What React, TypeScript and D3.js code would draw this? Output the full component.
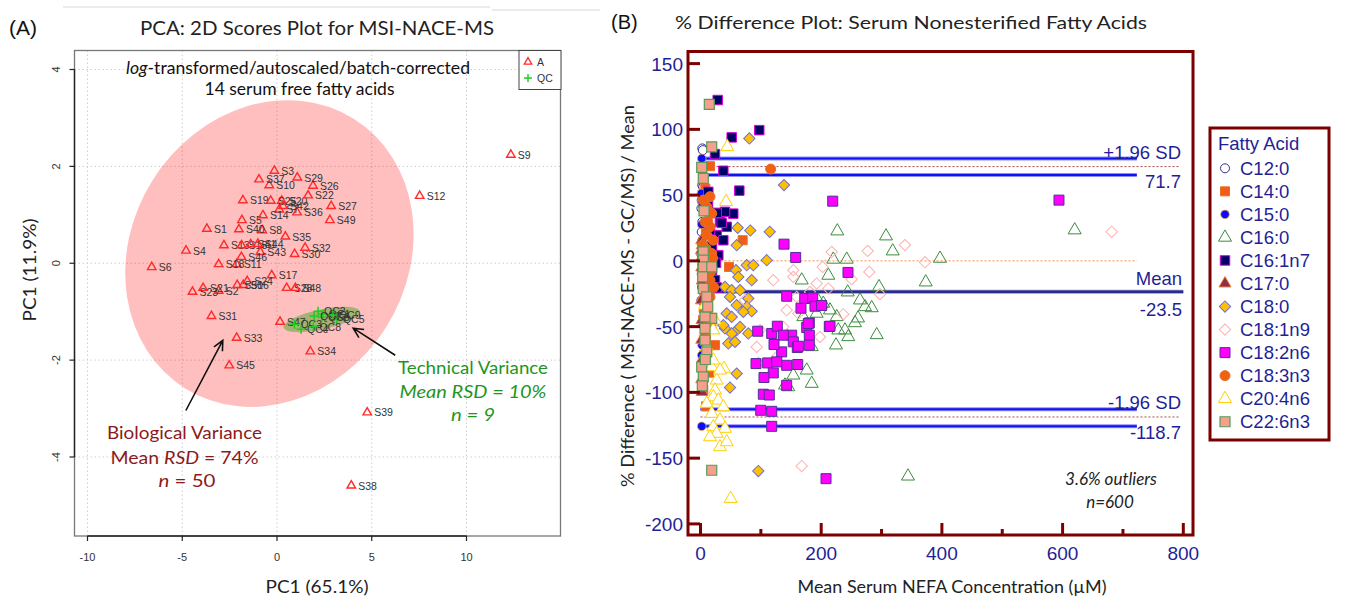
import React from 'react';
import * as d3 from 'd3';

// ---------------- Panel A data (PCA scores) ----------------
const sampleNames = ['S1','S2','S3','S4','S5','S6','S7','S8','S9','S10','S11','S12','S13','S14','S15','S16','S17','S18','S19','S20','S21','S22','S23','S24','S25','S26','S27','S28','S29','S30','S31','S32','S33','S34','S35','S36','S37','S38','S39','S40','S41','S42','S43','S44','S45','S46','S47','S48','S49','S50'];
const samplePC1 = [-3.70,-3.08,-0.14,-4.80,-1.85,-6.61,0.12,-0.78,12.34,-0.41,-2.13,7.53,-2.80,-0.74,-1.87,-1.78,-0.28,-3.08,-1.80,0.25,-3.90,1.64,-4.46,-1.57,-0.33,1.90,2.86,0.51,1.07,0.93,-3.46,1.48,-2.13,1.76,0.44,1.06,-0.95,3.92,4.76,-2.01,-1.39,0.32,-0.88,-1.01,-2.52,-1.88,0.16,0.97,2.79,-2.10];
const samplePC2 = [0.71,-0.57,1.91,0.26,0.89,-0.08,1.11,0.68,2.24,1.61,-0.02,1.39,0.37,0.99,0.37,-0.45,-0.25,-0.02,1.30,1.29,-0.51,1.40,-0.59,-0.37,1.29,1.60,1.18,-0.51,1.77,0.19,-1.09,0.32,-1.54,-1.82,0.55,1.05,1.73,-4.59,-3.08,0.70,0.39,1.18,0.23,0.40,-2.11,0.13,-1.21,-0.51,0.89,-0.45];
const qcNames = ['QC1','QC2','QC3','QC4','QC5','QC6','QC7','QC8','QC9'];
const qcPC1 = [2.42,2.17,0.92,1.27,3.16,2.37,1.96,1.92,2.95];
const qcPC2 = [-1.05,-0.99,-1.26,-1.36,-1.16,-1.11,-1.09,-1.31,-1.07];
const xTicksA = [-10,-5,0,5,10];
const yTicksA = [-4,-2,0,2,4];
const bioEllipseCenter = [-0.40, 0.20];
const qcEllipseCenter = [2.36, -1.16];

// ---------------- Panel B data (% difference) ----------------
const fattyAcids = ['C12:0','C14:0','C15:0','C16:0','C16:1n7','C17:0','C18:0','C18:1n9','C18:2n6','C18:3n3','C20:4n6','C22:6n3'];
const c12_0 = [[3,85.5],[4,84.2],[5,64.4],[3,57.6],[4.5,56.3],[2,46.2],[1.5,40.0],[3,29.7],[2,22.0],[2.5,12.0],[1.5,5.0],[3,-3.0],[2,-10.0],[2.5,-20.0],[1.5,-30.0]];
const c14_0 = [[15.7,72.0],[69.9,15.7],[47.2,-4.6],[24.0,-64.1],[4.6,-97.8],[5.8,38.6],[9.1,23.4],[2.5,8.1],[10.8,-10.9],[5.8,-22.3],[12.4,-33.7],[4.1,-45.1],[9.1,-56.5],[5.8,-71.7],[9.1,-110.6],[14,-85],[18,-50],[20,-20],[8,55]];
const c15_0 = [[2.0,77.9],[2.0,-125.8],[1.5,51.3],[1.8,44.9],[2.0,27.7],[2.5,15.7],[2.0,0.5],[2.5,-14.7],[1.5,-29.9],[2.0,-46.6],[2.5,-64.1],[2.0,-71.7],[2.5,-83.2],[3.0,42.0]];
const c16_0 = [[226.7,22.6],[307.4,18.8],[318.5,7.4],[396.9,1.8],[373.2,-16.2],[620.0,23.4],[220.0,1.1],[242.3,1.1],[211.8,-11.1],[167.7,-14.7],[243.9,-23.8],[295.8,-19.8],[272.6,-35.0],[283.7,-35.8],[256.0,-47.2],[225.7,-42.6],[228.3,-52.7],[244.9,-57.8],[224.5,-64.1],[184.3,-65.4],[292.0,-56.3],[176.0,-83.2],[184.3,-93.3],[145.5,-95.9],[153.8,-87.0],[203.5,-32.4],[192.5,-40.0],[170.3,-42.6],[214.6,-37.5],[140.0,-94.6],[343.8,-163.8],[194.7,-29.9],[261.0,-43.6],[239.4,-52.7],[264.3,-29.9]];
const c16_1n7 = [[28.5,122.3],[97.4,99.4],[51.7,93.9],[24.0,81.2],[37.8,68.5],[64.3,53.4],[12.9,52.5],[54.3,35.9],[40.6,37.3],[32.3,29.7],[43.4,25.9],[26.8,19.6],[37.8,15.7],[26.8,36.5],[35.1,28.9],[29.5,4.3],[25.7,-1.5],[24.0,-14.7],[26.8,-20.2],[19.1,11.2],[15.7,23.4],[12.4,42.4],[19.1,-7.1]];
const c17_0 = [[2,15.7],[3,11.9],[1.5,8],[2.5,3],[2,-5],[3,-15],[1.5,-30],[2.5,-45],[2,-60],[3,-75],[2,-90],[2.5,-99.7]];
const c18_0 = [[80.9,93.1],[138.4,57.6],[61.6,25.1],[82.5,23.1],[114.7,22.1],[60.0,11.9],[76.6,-3.3],[87.5,-3.3],[109.7,0.5],[58.8,-7.1],[62.6,-12.2],[84.8,-14.7],[40.6,-19.8],[51.7,-22.3],[65.5,-22.3],[48.9,-27.4],[79.2,-28.6],[76.6,-35.0],[60.0,-33.7],[84.8,-38.3],[43.4,-40.0],[51.7,-42.6],[70.9,-38.8],[40.6,-51.4],[60.0,-52.7],[51.7,-55.2],[37.8,-48.9],[65.5,-50.2],[79.2,-55.2],[46.1,-62.8],[57.2,-61.6],[60.0,-85.7],[48.9,-96.3],[95.8,-159.8]];
const c18_1n9 = [[277.0,7.6],[217.4,6.8],[202.5,-4.6],[153.8,-12.2],[279.7,-8.4],[250.5,-13.9],[297.4,-25.3],[192.5,-17.2],[211.8,-21.0],[181.4,-23.6],[159.4,-27.4],[142.8,-37.5],[162.1,-40.0],[236.6,-40.6],[198.0,-57.8],[176.0,-47.6],[137.2,-50.2],[681.4,22.1],[167.7,-156.0],[95.8,-77.6],[126.3,-73.0],[93.1,-65.4],[153.8,-7.1],[120.6,-14.7],[372.0,-1.0],[338.8,12.0],[98.6,-52.7],[73.7,-29.9]];
const c18_2n6 = [[219.1,45.4],[594.0,46.2],[138.4,12.7],[157.7,2.6],[244.4,-8.8],[142.8,-26.9],[172.7,-28.6],[185.9,-28.2],[166.5,-36.0],[189.7,-34.5],[200.8,-33.9],[180.3,-47.2],[176.0,-50.7],[213.4,-49.9],[180.3,-56.5],[151.1,-56.5],[153.8,-61.6],[160.4,-65.9],[134.5,-69.2],[142.8,-79.4],[161.1,-78.8],[142.8,-94.6],[94.8,-53.5],[118.0,-55.2],[127.3,-49.7],[137.2,-56.5],[162.1,-64.9],[121.8,-63.6],[92.0,-78.1],[111.3,-77.6],[126.3,-76.8],[120.6,-85.2],[105.2,-88.7],[104.1,-101.4],[114.0,-102.0],[99.8,-113.6],[118.0,-114.4],[118.0,-125.8],[180.3,-64.1],[178.6,-47.6],[214.6,-49.7],[208.0,-165.6]];
const c18_3n3 = [[116.3,69.8],[15.7,48.8],[4.6,46.2],[10.3,41.1],[18.6,36.1],[7.5,29.7],[15.7,25.9],[10.3,19.6],[21.2,15.7],[9.1,9.4],[18.6,5.6],[12.9,-0.8],[4.6,-7.1],[15.7,-14.7],[10.3,-21.0],[15.7,-27.4],[7.5,-33.7],[12.4,-41.3],[6,-38],[14,-47],[8,-52],[3,12],[20,2],[17,-8],[22,-20],[12,30]];
const c20_4n6 = [[44.4,86.7],[42.3,44.9],[7.5,-33.7],[10.3,-41.3],[21.2,-52.7],[24.0,-45.1],[18.6,-80.7],[21.2,-75.6],[38.9,-81.9],[26.8,-90.8],[24.0,-98.4],[21.2,-103.5],[29.5,-106.0],[10.3,-108.5],[37.8,-111.1],[18.6,-116.1],[32.3,-121.2],[21.2,-126.3],[40.6,-127.5],[26.8,-131.3],[15.7,-133.9],[32.3,-141.5],[43.4,-137.7],[50.0,-180.8],[10.3,-65.4],[32.3,-83.2]];
const c22_6n3 = [[14.6,119.0],[18.6,86.7],[2.0,71.1],[4.6,62.7],[5.8,38.0],[18.6,-159.2],[4.6,6.8],[4.6,0.5],[4.6,-4.6],[18.6,-4.6],[3.6,-12.2],[4.6,-21.0],[10.3,-27.4],[18.6,-43.8],[7.5,-42.6],[7.5,-51.4],[7.5,-60.3],[10.3,-69.2],[2.0,-80.7],[4.6,-88.3],[12,-35],[3,-95],[8,-75]];
const xTicksB = [0,200,400,600,800];
const xMinorB = [100,300,500,700];
const yTicksB = [-200,-150,-100,-50,0,50,100,150];
const meanDiff = -23.5;
const upperLoA = 71.7;
const lowerLoA = -118.7;
const upperCI = [65.2, 77.9];
const lowerCI = [-125.8, -112.8];

const seriesData = [c12_0, c14_0, c15_0, c16_0, c16_1n7, c17_0, c18_0, c18_1n9, c18_2n6, c18_3n3, c20_4n6, c22_6n3];
const seriesStyle = [
  { shape: 'circle', s: 4.5, fill: '#ffffff', stroke: '#30309a', sw: 1 },
  { shape: 'square', s: 9, fill: '#f25c14', stroke: '#e8702a', sw: 1 },
  { shape: 'circle', s: 4.3, fill: '#0a0aff', stroke: '#f0b040', sw: 0.8 },
  { shape: 'triangle', s: 13, fill: 'none', stroke: '#3c8c3c', sw: 1 },
  { shape: 'square', s: 9.5, fill: '#000066', stroke: '#dd00dd', sw: 1 },
  { shape: 'triangle', s: 12, fill: '#8b2f4f', stroke: '#f07a30', sw: 1 },
  { shape: 'diamond', s: 8, fill: '#ffc000', stroke: '#7070d8', sw: 1 },
  { shape: 'diamond', s: 8, fill: 'none', stroke: '#ffb0b0', sw: 1 },
  { shape: 'square', s: 10, fill: '#ff00ff', stroke: '#50309a', sw: 1 },
  { shape: 'circle', s: 5, fill: '#f26010', stroke: '#e07030', sw: 1 },
  { shape: 'triangle', s: 13, fill: '#ffffff', stroke: '#ffd000', sw: 1 },
  { shape: 'square', s: 10, fill: '#f4a08c', stroke: '#5a9a5a', sw: 1.2 },
];

const CG = "Lato, 'Open Sans', sans-serif";
const AR = "'Liberation Sans', Arial, sans-serif";
const NAVY = '#1f1f96';
const DRED = '#7b0000';

function markerPath(shape: string, s: number): string {
  const sym = d3.symbol();
  if (shape === 'circle') return sym.type(d3.symbolCircle).size(Math.PI * s * s)() as string;
  if (shape === 'triangle') return sym.type(d3.symbolTriangle).size((Math.sqrt(3) / 4) * s * s)() as string;
  return sym.type(d3.symbolSquare).size(s * s)() as string;
}

function Marker({ x, y, st }: any) {
  const rot = st.shape === 'diamond' ? ' rotate(45)' : '';
  return (
    <path d={markerPath(st.shape, st.s)} transform={`translate(${x},${y})${rot}`}
      fill={st.fill} stroke={st.stroke} strokeWidth={st.sw} />
  );
}

function Arrow({ x1, y1, x2, y2 }: any) {
  const a = Math.atan2(y2 - y1, x2 - x1);
  const L = 11;
  const h1 = [x2 - L * Math.cos(a - 0.45), y2 - L * Math.sin(a - 0.45)];
  const h2 = [x2 - L * Math.cos(a + 0.45), y2 - L * Math.sin(a + 0.45)];
  return (
    <path d={`M${x1},${y1}L${x2},${y2}M${h1[0]},${h1[1]}L${x2},${y2}L${h2[0]},${h2[1]}`}
      stroke="#111" strokeWidth={1.6} fill="none" />
  );
}

export default function App() {
  // Panel A scales
  const xA = d3.scaleLinear().domain([-10, 10]).range([87.5, 466.5]);
  const yA = d3.scaleLinear().domain([-4, 4]).range([457, 69.5]);
  const fA = { l: 74.5, r: 560.5, t: 50.5, b: 536 };

  // Panel B scales
  const xB = d3.scaleLinear().domain([0, 800]).range([700.5, 1183.3]);
  const yB = d3.scaleLinear().domain([-200, 150]).range([523.9, 63.6]);
  const fB = { l: 688, r: 1193, t: 51.5, b: 535 };

  const triA = markerPath('triangle', 8.5);

  return (
    <svg width={1355} height={602} style={{ position: 'absolute', left: 0, top: 0, background: '#fff' }}>
      {/* faint panel borders */}
      <line x1={63} y1={7} x2={490} y2={7} stroke="#d8d8d8" strokeWidth={1} />
      <line x1={492} y1={10} x2={600} y2={10} stroke="#d8d8d8" strokeWidth={1} />

      {/* ================= PANEL A ================= */}
      <text x={9} y={35} fontFamily={AR} fontSize={21} fill="#111">(A)</text>
      <text x={317} y={35} textAnchor="middle" fontFamily={CG} fontSize={20} fill="#222"
        textLength={354} lengthAdjust="spacingAndGlyphs">PCA: 2D Scores Plot for MSI-NACE-MS</text>

      {/* grid */}
      {xTicksA.map((t) => (
        <line key={'gx' + t} x1={xA(t)} x2={xA(t)} y1={fA.t} y2={fA.b} stroke="#cfcfcf" strokeDasharray="1.5,2.5" />
      ))}
      {yTicksA.map((t) => (
        <line key={'gy' + t} x1={fA.l} x2={fA.r} y1={yA(t)} y2={yA(t)} stroke="#cfcfcf" strokeDasharray="1.5,2.5" />
      ))}

      {/* biological ellipse */}
      <ellipse cx={0} cy={0} rx={138} ry={159} fill="#ff0000" fillOpacity={0.25}
        transform={`translate(${xA(bioEllipseCenter[0])},${yA(bioEllipseCenter[1])}) rotate(32)`} />
      {/* QC ellipse */}
      <ellipse cx={0} cy={0} rx={39} ry={10} fill="rgb(90,170,50)" fillOpacity={0.55}
        transform={`translate(${xA(qcEllipseCenter[0])},${yA(qcEllipseCenter[1])}) rotate(-12)`} />

      {/* samples */}
      {sampleNames.map((n, i) => (
        <g key={n}>
          <path d={triA} transform={`translate(${xA(samplePC1[i])},${yA(samplePC2[i])})`} fill="none" stroke="#ff2a2a" strokeWidth={1.4} />
          <text x={xA(samplePC1[i]) + 7} y={yA(samplePC2[i]) + 4} fontFamily={AR} fontSize={10.5} fill="#333">{n}</text>
        </g>
      ))}
      {qcNames.map((n, i) => {
        const cx = xA(qcPC1[i]);
        const cy = yA(qcPC2[i]);
        return (
          <g key={n}>
            <path d={`M${cx - 4.5},${cy}H${cx + 4.5}M${cx},${cy - 4.5}V${cy + 4.5}`} stroke="#1fcc1f" strokeWidth={1.5} />
            <text x={cx + 6} y={cy + 4} fontFamily={AR} fontSize={10.5} fill="#333">{n}</text>
          </g>
        );
      })}

      {/* frame and axes */}
      <rect x={fA.l} y={fA.t} width={fA.r - fA.l} height={fA.b - fA.t} fill="none" stroke="#777" strokeWidth={1.3} />
      <line x1={xA(-10)} x2={xA(10)} y1={fA.b} y2={fA.b} stroke="#222" strokeWidth={1.4} />
      {xTicksA.map((t) => (
        <g key={'xa' + t}>
          <line x1={xA(t)} x2={xA(t)} y1={fA.b} y2={fA.b + 5} stroke="#222" strokeWidth={1.2} />
          <text x={xA(t)} y={fA.b + 25} textAnchor="middle" fontFamily={AR} fontSize={11} fill="#333">{t}</text>
        </g>
      ))}
      <line x1={fA.l} x2={fA.l} y1={yA(-4)} y2={yA(4)} stroke="#222" strokeWidth={1.4} />
      {yTicksA.map((t) => (
        <g key={'ya' + t}>
          <line x1={fA.l - 5} x2={fA.l} y1={yA(t)} y2={yA(t)} stroke="#222" strokeWidth={1.2} />
          <text transform={`translate(${fA.l - 15},${yA(t)}) rotate(-90)`} textAnchor="middle" fontFamily={AR} fontSize={11} fill="#333">{t}</text>
        </g>
      ))}

      {/* legend A */}
      <rect x={519} y={fA.t} width={42} height={39} fill="#fff" stroke="#444" strokeWidth={1} />
      <path d={markerPath('triangle', 7.5)} transform="translate(528,62)" fill="none" stroke="#ff2a2a" strokeWidth={1.3} />
      <text x={537} y={66} fontFamily={AR} fontSize={10.5} fill="#333">A</text>
      <path d="M524,78H532M528,74V82" stroke="#1fcc1f" strokeWidth={1.4} />
      <text x={537} y={82} fontFamily={AR} fontSize={10.5} fill="#333">QC</text>

      {/* annotations A */}
      <text x={298} y={74} textAnchor="middle" fontFamily={CG} fontSize={17} fill="#111" textLength={344} lengthAdjust="spacingAndGlyphs">
        <tspan fontStyle="italic">log</tspan>-transformed/autoscaled/batch-corrected
      </text>
      <text x={299.5} y={95} textAnchor="middle" fontFamily={CG} fontSize={17} fill="#111" textLength={190} lengthAdjust="spacingAndGlyphs">14 serum free fatty acids</text>

      <text x={473} y={374} textAnchor="middle" fontFamily={CG} fontSize={17} fill="#1e961e" textLength={150} lengthAdjust="spacingAndGlyphs">Technical Variance</text>
      <text x={473} y={398} textAnchor="middle" fontFamily={CG} fontSize={17} fill="#1e961e" fontStyle="italic" textLength={147} lengthAdjust="spacingAndGlyphs">Mean RSD = 10%</text>
      <text x={473} y={421} textAnchor="middle" fontFamily={CG} fontSize={17} fill="#1e961e" fontStyle="italic" textLength={44} lengthAdjust="spacingAndGlyphs">n = 9</text>

      <text x={184.5} y={439} textAnchor="middle" fontFamily={CG} fontSize={17} fill="#8b1a1a" textLength={155} lengthAdjust="spacingAndGlyphs">Biological Variance</text>
      <text x={184.5} y={464} textAnchor="middle" fontFamily={CG} fontSize={17} fill="#8b1a1a" textLength={148} lengthAdjust="spacingAndGlyphs">
        Mean <tspan fontStyle="italic">RSD</tspan> = 74%
      </text>
      <text x={187} y={487} textAnchor="middle" fontFamily={CG} fontSize={17} fill="#8b1a1a" textLength={57} lengthAdjust="spacingAndGlyphs">
        <tspan fontStyle="italic">n</tspan> = 50
      </text>

      <Arrow x1={xA(-4.81)} y1={yA(-3.04)} x2={xA(-2.86)} y2={yA(-1.59)} />
      <Arrow x1={xA(6.24)} y1={yA(-1.90)} x2={xA(4.02)} y2={yA(-1.34)} />

      <text x={317} y={593} textAnchor="middle" fontFamily={CG} fontSize={18} fill="#222" textLength={103} lengthAdjust="spacingAndGlyphs">PC1 (65.1%)</text>
      <text transform="translate(36,270) rotate(-90)" textAnchor="middle" fontFamily={CG} fontSize={18} fill="#222" textLength={103} lengthAdjust="spacingAndGlyphs">PC1 (11.9%)</text>

      {/* ================= PANEL B ================= */}
      <text x={611} y={29} fontFamily={AR} fontSize={20} fill="#111">(B)</text>
      <text x={911} y={29} textAnchor="middle" fontFamily={CG} fontSize={18} fill="#222" textLength={472} lengthAdjust="spacingAndGlyphs">% Difference Plot: Serum Nonesterified Fatty Acids</text>

      {/* reference lines */}
      <line x1={xB(0)} x2={xB(723)} y1={yB(0)} y2={yB(0)} stroke="#ff8c40" strokeWidth={1} strokeDasharray="2,2" />
      <line x1={xB(0)} x2={xB(795)} y1={yB(upperLoA)} y2={yB(upperLoA)} stroke="#b04848" strokeWidth={1} strokeDasharray="2,2" />
      <line x1={xB(0)} x2={xB(795)} y1={yB(lowerLoA)} y2={yB(lowerLoA)} stroke="#b04848" strokeWidth={1} strokeDasharray="2,2" />
      {[...upperCI, ...lowerCI].map((v, i) => (
        <g key={'ci' + i}>
          <line x1={xB(0)} x2={xB(723)} y1={yB(v)} y2={yB(v)} stroke="#8c8cff" strokeWidth={4} />
          <line x1={xB(0)} x2={xB(723)} y1={yB(v)} y2={yB(v)} stroke="#1212f0" strokeWidth={2} />
        </g>
      ))}
      <line x1={xB(0)} x2={xB(800)} y1={yB(meanDiff)} y2={yB(meanDiff)} stroke="#9090c8" strokeWidth={4} />
      <line x1={xB(0)} x2={xB(800)} y1={yB(meanDiff)} y2={yB(meanDiff)} stroke="#2c2c8c" strokeWidth={2.5} />

      {/* points */}
      {seriesData.map((ser, si) => (
        <g key={'s' + si}>
          {ser.map((p, pi) => (
            <Marker key={pi} x={xB(p[0])} y={yB(p[1])} st={seriesStyle[si]} />
          ))}
        </g>
      ))}

      {/* line labels */}
      <g fontFamily={AR} fontSize={18.5} fill={NAVY} textAnchor="end">
        <text x={1181} y={159}>+1.96 SD</text>
        <text x={1181} y={yB(upperLoA) + 21}>{upperLoA.toFixed(1)}</text>
        <text x={1182} y={yB(meanDiff) - 7}>Mean</text>
        <text x={1182} y={yB(meanDiff) + 24}>{meanDiff.toFixed(1)}</text>
        <text x={1181} y={yB(lowerLoA) - 8}>-1.96 SD</text>
        <text x={1181} y={yB(lowerLoA) + 22}>{lowerLoA.toFixed(1)}</text>
      </g>

      {/* frame */}
      <rect x={fB.l} y={fB.t} width={fB.r - fB.l} height={fB.b - fB.t} fill="none" stroke={DRED} strokeWidth={3} />
      {xTicksB.map((t) => (
        <g key={'xb' + t}>
          <line x1={xB(t)} x2={xB(t)} y1={fB.b} y2={fB.b - 12} stroke={DRED} strokeWidth={3} />
          <text x={xB(t)} y={560} textAnchor="middle" fontFamily={AR} fontSize={19} fill={NAVY}>{t}</text>
        </g>
      ))}
      {xMinorB.map((t) => (
        <line key={'xm' + t} x1={xB(t)} x2={xB(t)} y1={fB.b} y2={fB.b - 6} stroke={DRED} strokeWidth={3} />
      ))}
      {yTicksB.map((t) => (
        <g key={'yb' + t}>
          <line x1={fB.l} x2={fB.l + 12} y1={yB(t)} y2={yB(t)} stroke={DRED} strokeWidth={3} />
          <text x={683} y={yB(t) + 7} textAnchor="end" fontFamily={AR} fontSize={19} fill={NAVY}>{t}</text>
        </g>
      ))}

      <text x={952} y={593} textAnchor="middle" fontFamily={CG} fontSize={17} fill="#222" textLength={309} lengthAdjust="spacingAndGlyphs">Mean Serum NEFA Concentration ({'\u00B5'}M)</text>
      <text transform="translate(634,296) rotate(-90)" textAnchor="middle" fontFamily={CG} fontSize={18} fill="#222" textLength={382} lengthAdjust="spacingAndGlyphs">% Difference ( MSI-NACE-MS - GC/MS) / Mean</text>

      {/* outliers note */}
      <text x={1111} y={485} textAnchor="middle" fontFamily={CG} fontSize={17} fontStyle="italic" fill="#222">3.6% outliers</text>
      <text x={1110} y={508} textAnchor="middle" fontFamily={CG} fontSize={17} fontStyle="italic" fill="#222">n=600</text>

      {/* legend B */}
      <rect x={1210} y={128} width={119} height={312} fill="#fff" stroke={DRED} strokeWidth={3} />
      <text x={1218} y={150} fontFamily={AR} fontSize={18.5} fill={NAVY}>Fatty Acid</text>
      {fattyAcids.map((name, i) => {
        const cy = 168.3 + i * 23.04;
        return (
          <g key={name}>
            <Marker x={1225} y={cy} st={seriesStyle[i]} />
            <text x={1240} y={cy + 6.5} fontFamily={AR} fontSize={18.5} fill={NAVY}>{name}</text>
          </g>
        );
      })}
    </svg>
  );
}
